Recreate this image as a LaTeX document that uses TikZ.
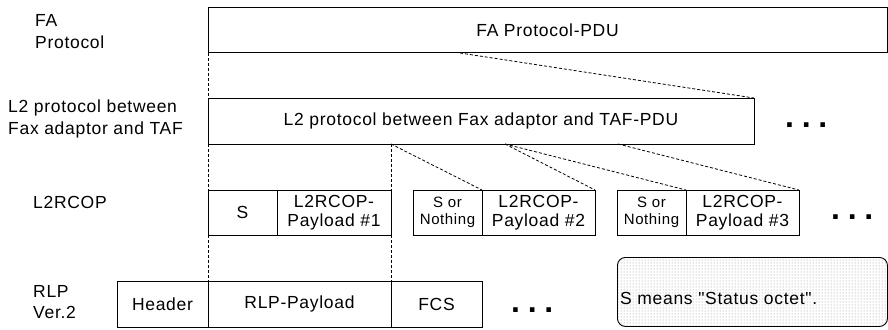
\documentclass[tikz,border=0pt]{standalone}
\usepackage{fontspec}
\setmainfont{Liberation Sans}[LetterSpace=4]
\newfontfamily\dotfont{Liberation Sans}[LetterSpace=24]
\newfontfamily\straightfont{Liberation Sans}[LetterSpace=4, Ligatures=TeXOff]
\usetikzlibrary{patterns}

% text sizes used in the frame diagram
\newcommand\mainsize{\fontsize{17.5}{18.7}\selectfont}
\newcommand\lblsize{\fontsize{17.5}{21.5}\selectfont}
\newcommand\smallsize{\fontsize{15}{16.7}\selectfont}

\begin{document}
\begin{tikzpicture}[x=1pt,y=-1pt,
  field/.style={draw=black, line width=1pt, inner sep=0pt, outer sep=0pt,
    anchor=north west, align=center, font=\mainsize},
  smallfield/.style={field, font=\smallsize},
  lbl/.style={inner sep=0pt, anchor=west, align=left, font=\lblsize},
  lblone/.style={inner sep=0pt, anchor=base west, font=\lblsize},
  link/.style={draw=black, line width=0.8pt, dash pattern=on 3pt off 2pt},
  more/.style={inner sep=0pt, anchor=base west, font=\dotfont\bfseries\fontsize{32}{32}\selectfont},
  notebox/.style={draw=black, line width=0.9pt, rounded corners=8pt,
    pattern=dots, pattern color=black!45, inner sep=0pt, anchor=north west}
]
\useasboundingbox (0,0) rectangle (888,329);

% layer labels
\node[lbl] (lfa) at (35,31.5) {FA\\Protocol};
\node[lbl] (ll2) at (8,119) {L2 protocol between\\Fax adaptor and TAF};
\node[lblone] (lrc) at (33,208) {L2RCOP};
\node[lbl] (lrlp) at (33,302) {RLP\\Ver.2};

% FA layer
\node[field, minimum width=679pt, minimum height=45pt] (fa) at (208,8) {FA Protocol-PDU};

% L2 layer
\node[field, minimum width=546pt, minimum height=46pt] (l2) at (208,98)
  {L2 protocol between Fax adaptor and TAF-PDU};
\node[more] (m1) at (785,127) {...};

% L2RCOP frames
\node[field, minimum width=69pt, minimum height=45pt] (s1) at (208,190) {S};
\node[field, minimum width=114pt, minimum height=45pt] (p1) at (277,190) {L2RCOP-\\Payload \#1};
\node[smallfield, minimum width=69pt, minimum height=45pt] (s2) at (413,190) {S or\\Nothing};
\node[field, minimum width=113pt, minimum height=45pt] (p2) at (482,190) {L2RCOP-\\Payload \#2};
\node[smallfield, minimum width=69pt, minimum height=45pt] (s3) at (617,190) {S or\\Nothing};
\node[field, minimum width=113pt, minimum height=45pt] (p3) at (686,190) {L2RCOP-\\Payload \#3};
\node[more] (m2) at (831,219) {...};

% RLP frame
\node[field, minimum width=91pt, minimum height=46pt] (hdr) at (117,281) {Header};
\node[field, minimum width=183pt, minimum height=46pt] (rlpp) at (208,281) {RLP-Payload};
\node[field, minimum width=91pt, minimum height=46pt] (fcs) at (391,281) {FCS};
\node[more] (m3) at (511,312) {...};

% note
\node[notebox, minimum width=270pt, minimum height=69pt] (note) at (617,257) {};
\node[lblone, font=\straightfont\mainsize] (notetext) at (620,304) {S means "Status octet".};

% mapping lines
\coordinate (faend) at ([xshift=252pt]fa.south west);
\coordinate (l2a) at ([xshift=297pt]l2.south west);
\coordinate (l2b) at ([xshift=410pt]l2.south west);
\draw[link] (fa.south west) -- (l2.north west);
\draw[link] (faend) -- (l2.north east);
\draw[link] (l2.south west) -- (s1.north west);
\draw[link] (p1.north east |- l2.south) -- (p1.north east);
\draw[link] (p1.north east |- l2.south) -- (p2.north west);
\draw[link] (l2a) -- (p2.north east);
\draw[link] (l2a) -- (p3.north west);
\draw[link] (l2b) -- (p3.north east);
\draw[link] (s1.south west) -- (rlpp.north west);
\draw[link] (p1.south east) -- (rlpp.north east);
\end{tikzpicture}
\end{document}
